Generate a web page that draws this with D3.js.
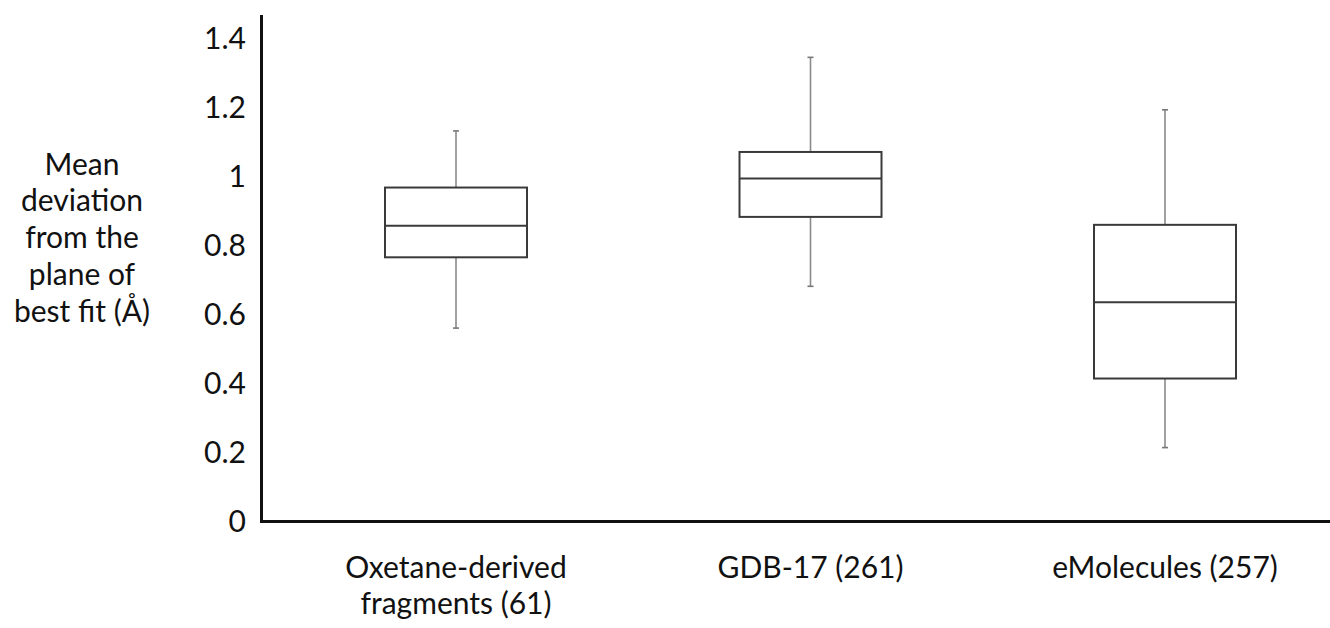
<!DOCTYPE html>
<html>
<head>
<meta charset="utf-8">
<script src="https://cdn.jsdelivr.net/npm/d3@7"></script>
<style>
  html, body { margin: 0; padding: 0; background: #fff; }
  svg { display: block; }
  text { font-family: Lato, "Open Sans", sans-serif; fill: #111; }
</style>
</head>
<body>
<svg id="chart" width="1330" height="628"></svg>
<script>
// Box-plot statistics per dataset
const categories = ["Oxetane-derived\nfragments (61)", "GDB-17 (261)", "eMolecules (257)"];
const whiskerMin = [0.560, 0.681, 0.214];
const quartile1  = [0.765, 0.882, 0.414];
const medians    = [0.856, 0.993, 0.635];
const quartile3  = [0.967, 1.070, 0.859];
const whiskerMax = [1.131, 1.344, 1.192];
const yTicks = [0, 0.2, 0.4, 0.6, 0.8, 1, 1.2, 1.4];
const yTitle = ["Mean", "deviation", "from the", "plane of", "best fit (Å)"];

const svg = d3.select("#chart");

const y = d3.scaleLinear().domain([0, 1.4]).range([521.5, 38]);
const x = d3.scalePoint().domain(categories).range([456, 1165]);
const boxW = 142;
const capW = 6;
const fontSize = 30;

const rows = categories.map((c, i) => ({
  cat: c, lo: whiskerMin[i], q1: quartile1[i], med: medians[i], q3: quartile3[i], hi: whiskerMax[i]
}));

// Axis lines
const axisX0 = 261.5;
svg.append("line")
  .attr("x1", axisX0).attr("x2", axisX0)
  .attr("y1", 15).attr("y2", y(0) + 1.5)
  .attr("stroke", "#111").attr("stroke-width", 3);
svg.append("line")
  .attr("x1", axisX0 - 1.5).attr("x2", 1330)
  .attr("y1", y(0)).attr("y2", y(0))
  .attr("stroke", "#111").attr("stroke-width", 3);

// Y tick labels
svg.append("g").selectAll("text")
  .data(yTicks).join("text")
  .attr("x", 246)
  .attr("y", d => y(d))
  .attr("dy", "0.36em")
  .attr("text-anchor", "end")
  .attr("font-size", fontSize)
  .text(d => d3.format("~g")(d));

// Y title (multi-line)
svg.append("text")
  .attr("text-anchor", "middle")
  .attr("font-size", fontSize)
  .selectAll("tspan").data(yTitle).join("tspan")
  .attr("x", 82)
  .attr("y", (d, i) => 164 + i * 36.8)
  .attr("dy", "0.35em")
  .text(d => d);

// Category labels
const catG = svg.append("g");
rows.forEach(r => {
  const lines = r.cat.split("\n");
  const t = catG.append("text")
    .attr("text-anchor", "middle")
    .attr("font-size", fontSize);
  lines.forEach((ln, i) => {
    t.append("tspan")
      .attr("x", x(r.cat))
      .attr("y", 567 + i * 36.5)
      .attr("dy", "0.35em")
      .text(ln);
  });
});

// Boxes
const g = svg.append("g");
const box = g.selectAll("g.box").data(rows).join("g").attr("class", "box");

// whiskers
box.append("line")
  .attr("x1", d => x(d.cat)).attr("x2", d => x(d.cat))
  .attr("y1", d => y(d.hi)).attr("y2", d => y(d.q3))
  .attr("stroke", "#8a8a8a").attr("stroke-width", 1.6);
box.append("line")
  .attr("x1", d => x(d.cat)).attr("x2", d => x(d.cat))
  .attr("y1", d => y(d.q1)).attr("y2", d => y(d.lo))
  .attr("stroke", "#8a8a8a").attr("stroke-width", 1.6);
// caps
["hi", "lo"].forEach(k => {
  box.append("line")
    .attr("x1", d => x(d.cat) - capW / 2).attr("x2", d => x(d.cat) + capW / 2)
    .attr("y1", d => y(d[k])).attr("y2", d => y(d[k]))
    .attr("stroke", "#777").attr("stroke-width", 1.6);
});
// box
box.append("rect")
  .attr("x", d => x(d.cat) - boxW / 2)
  .attr("width", boxW)
  .attr("y", d => y(d.q3))
  .attr("height", d => y(d.q1) - y(d.q3))
  .attr("fill", "#fff")
  .attr("stroke", "#3a3a3a").attr("stroke-width", 2);
// median
box.append("line")
  .attr("x1", d => x(d.cat) - boxW / 2).attr("x2", d => x(d.cat) + boxW / 2)
  .attr("y1", d => y(d.med)).attr("y2", d => y(d.med))
  .attr("stroke", "#3a3a3a").attr("stroke-width", 2);
</script>
</body>
</html>
